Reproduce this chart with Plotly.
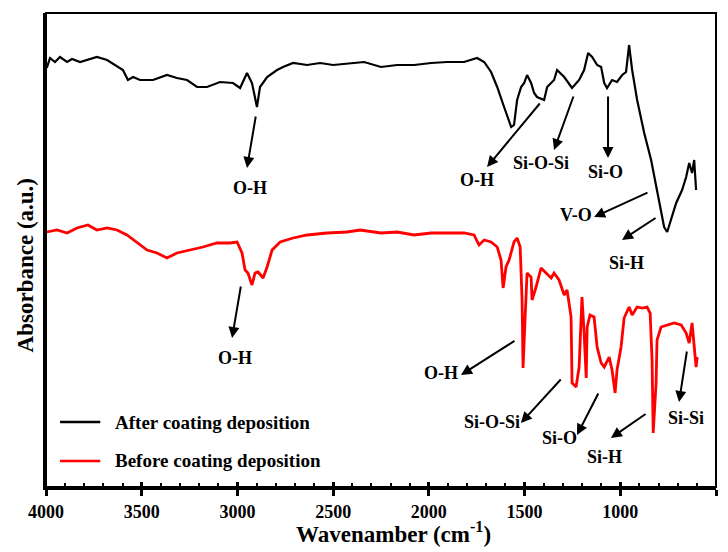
import plotly.graph_objects as go

# ---- data ----
after_wn = [3996, 3979, 3953, 3927, 3890, 3864, 3822, 3786, 3734, 3681,
            3639, 3598, 3572, 3545, 3509, 3441, 3368, 3316, 3263, 3211,
            3159, 3091, 3023, 2986, 2950, 2924, 2898, 2882, 2845, 2793,
            2762, 2709, 2636, 2568, 2500, 2412, 2338, 2250, 2166, 2077,
            1988, 1905, 1816, 1748, 1711, 1675, 1643, 1607, 1570, 1555,
            1539, 1518, 1502, 1487, 1466, 1450, 1435, 1398, 1382, 1346,
            1330, 1293, 1252, 1215, 1189, 1168, 1147, 1121, 1100, 1084,
            1069, 1043, 1017, 990, 970, 954, 938, 912, 875, 839,
            813, 787, 771, 755, 734, 708, 677, 656, 640, 625,
            614, 604]
after_abs = [419, 429, 425, 430, 425, 428, 425, 427, 430, 427,
             422, 417, 407, 410, 407, 407, 412, 409, 407, 400,
             400, 405, 404, 399, 414, 404, 380, 400, 410, 417,
             420, 424, 422, 424, 422, 424, 425, 420, 422, 422,
             424, 425, 425, 429, 425, 415, 400, 380, 360, 362,
             387, 400, 404, 412, 404, 394, 390, 387, 400, 407,
             417, 410, 399, 407, 417, 434, 430, 422, 420, 404,
             399, 407, 405, 412, 415, 442, 417, 387, 354, 327,
             300, 274, 260, 255, 267, 284, 297, 310, 324, 314,
             327, 297]

before_wn = [3995, 3943, 3890, 3838, 3781, 3734, 3681, 3629, 3577, 3525,
             3472, 3420, 3368, 3316, 3248, 3180, 3107, 3039, 3002, 2976,
             2960, 2945, 2924, 2908, 2892, 2866, 2845, 2819, 2777, 2709,
             2636, 2532, 2427, 2359, 2250, 2166, 2077, 1988, 1905, 1816,
             1764, 1738, 1711, 1675, 1643, 1623, 1612, 1597, 1581, 1555,
             1539, 1523, 1513, 1508, 1497, 1487, 1466, 1461, 1440, 1414,
             1388, 1361, 1346, 1320, 1293, 1278, 1257, 1252, 1231, 1215,
             1205, 1200, 1189, 1178, 1173, 1158, 1137, 1121, 1100, 1084,
             1058, 1043, 1027, 1017, 996, 980, 954, 938, 912, 886,
             860, 844, 834, 828, 813, 808, 787, 755, 719, 682,
             656, 640, 625, 604, 598]
before_abs = [255, 257, 254, 259, 262, 257, 259, 257, 252, 245,
              237, 234, 229, 234, 237, 240, 244, 244, 245, 234,
              217, 214, 202, 214, 215, 209, 220, 237, 245, 249,
              252, 254, 255, 257, 254, 255, 252, 254, 254, 254,
              252, 242, 247, 245, 240, 227, 199, 220, 227, 245,
              249, 240, 187, 119, 170, 214, 210, 187, 200, 219,
              214, 209, 214, 207, 192, 197, 170, 104, 100, 120,
              167, 190, 154, 109, 160, 172, 170, 140, 124, 120,
              130, 117, 94, 117, 140, 169, 180, 172, 180, 179,
              180, 174, 127, 54, 104, 147, 160, 162, 164, 162,
              154, 144, 164, 120, 130]

x_ticks = [4000, 3500, 3000, 2500, 2000, 1500, 1000, 500]

# band labels: text, label position, arrow tail, arrow head
band_text = ["O-H", "O-H", "Si-O-Si", "Si-O", "V-O", "Si-H",
             "O-H", "O-H", "Si-O-Si", "Si-O", "Si-H", "Si-Si"]
label_xy = [(2934, 299), (1748, 307), (1414, 324), (1075, 315), (1231, 272), (965, 224),
            (3013, 129), (1936, 114), (1670, 65), (1320, 49), (1085, 30), (657, 69)]
arrow_tail = [(2903, 372), (1414, 385), (1242, 392), (1064, 392), (850, 295), (808, 270),
              (2981, 202), (1545, 147), (1304, 109), (1111, 95), (860, 74), (651, 137)]
arrow_head = [(2950, 319), (1696, 320), (1346, 337), (1064, 329), (1137, 270), (991, 247),
              (3028, 149), (1832, 112), (1519, 64), (1226, 52), (1049, 49), (693, 85)]

FONT = "Liberation Serif"

fig = go.Figure()
fig.add_trace(go.Scatter(x=after_wn, y=after_abs, mode="lines", name="After coating deposition",
                         line=dict(color="black", width=2.2), showlegend=False))
fig.add_trace(go.Scatter(x=before_wn, y=before_abs, mode="lines", name="Before coating deposition",
                         line=dict(color="#ff0000", width=2.8), showlegend=False))
# dummy trace so the overlay axis (inside major ticks) is drawn
fig.add_trace(go.Scatter(x=[4000, 500], y=[None, None], xaxis="x2", showlegend=False,
                         hoverinfo="skip"))

annotations = []
for t, (lx, ly) in zip(band_text, label_xy):
    annotations.append(dict(x=lx, y=ly, xref="x", yref="y", text=t, showarrow=False,
                            font=dict(family=FONT, size=18, color="black", weight="bold")))
for (tx, ty), (hx, hy) in zip(arrow_tail, arrow_head):
    annotations.append(dict(x=hx, y=hy, ax=tx, ay=ty, xref="x", yref="y", axref="x", ayref="y",
                            text="", showarrow=True, arrowhead=2, arrowsize=1.1, arrowwidth=2,
                            arrowcolor="black", standoff=0, startstandoff=0))

# legend (manual)
legend_items = [("After coating deposition", "black", 0.137),
                ("Before coating deposition", "#ff0000", 0.055)]
shapes = []
for txt, col, yy in legend_items:
    shapes.append(dict(type="line", xref="paper", yref="paper", x0=0.021, x1=0.081, y0=yy, y1=yy,
                       line=dict(color=col, width=2.5)))
    annotations.append(dict(x=0.1, y=yy, xref="paper", yref="paper", text=txt, showarrow=False,
                            xanchor="left", yanchor="middle",
                            font=dict(family=FONT, size=19, color="black", weight="bold")))

# box
shapes.append(dict(type="rect", xref="paper", yref="paper", x0=0, x1=1, y0=0, y1=1,
                   line=dict(color="black", width=2)))

# axis titles
annotations.append(dict(x=0.518, y=-0.097, xref="paper", yref="paper",
                        text="Wavenamber (cm<sup>-1</sup>)", showarrow=False,
                        xanchor="center", yanchor="middle",
                        font=dict(family=FONT, size=23, color="black", weight="bold")))
annotations.append(dict(x=-0.031, y=0.468, xref="paper", yref="paper",
                        text="Absorbance (a.u.)", showarrow=False, textangle=-90,
                        xanchor="center", yanchor="middle",
                        font=dict(family=FONT, size=23, color="black", weight="bold")))

fig.update_layout(
    width=728, height=552,
    margin=dict(l=46, r=12, t=13, b=65),
    paper_bgcolor="white", plot_bgcolor="white",
    xaxis=dict(range=[4000, 500], tickmode="array", tickvals=x_ticks,
               ticktext=[str(v) for v in x_ticks], automargin=False,
               ticks="outside", ticklen=6, tickwidth=2.5, tickcolor="black",
               showline=True, linewidth=3, linecolor="black", showgrid=False, zeroline=False,
               tickfont=dict(family=FONT, size=18, color="black", weight="bold"),
               minor=dict(tickmode="array", tickvals=[v for v in range(600, 4000, 100) if v % 500],
                          ticks="inside", ticklen=4, tickwidth=1.5, tickcolor="black", showgrid=False)),
    xaxis2=dict(range=[4000, 500], overlaying="x", anchor="y", side="bottom", automargin=False,
                tickmode="array", tickvals=x_ticks, ticks="inside", ticklen=5, tickwidth=2.5,
                tickcolor="black", showticklabels=False, showgrid=False, zeroline=False,
                showline=False),
    yaxis=dict(range=[0, 474], showticklabels=False, ticks="", showgrid=False, zeroline=False,
               automargin=False, showline=True, linewidth=3, linecolor="black"),
    annotations=annotations,
    shapes=shapes,
)

fig.write_html("out.html", config={"displayModeBar": False},
               post_script="document.body.style.margin='0px';document.body.style.padding='0px';")
